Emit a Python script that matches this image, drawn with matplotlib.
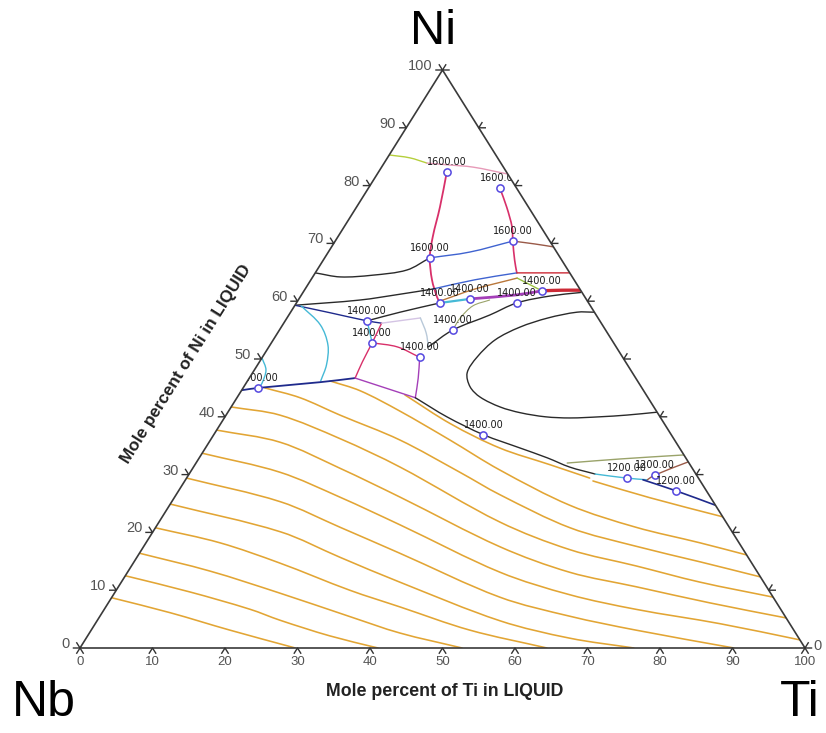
import numpy as np
import matplotlib
matplotlib.use("Agg")
import matplotlib.pyplot as plt
from matplotlib.path import Path
from matplotlib.patches import PathPatch, Polygon
from matplotlib.transforms import offset_copy

plt.rcParams['font.family'] = ['Liberation Sans', 'DejaVu Sans']

# ---------------------------------------------------------------------------
# Liquidus isotherms (mole percent Ti, mole percent Ni)
# ---------------------------------------------------------------------------
iso_ti = [
    [0, 9.4, 19.1, 29.7],
    [0, 10.3, 20.1, 25.2, 33.4, 41.1],
    [0, 11.3, 22.8, 34.6, 42.8, 52.7],
    [0, 10.2, 20.2, 32.2, 40.6, 52.2, 64.4],
    [0, 17.6, 28.0, 38.4, 55.6, 66.7, 76.4],
    [0, 15.0, 25.4, 35.9, 53.5, 64.8, 75.1, 90.2],
    [0, 12.4, 22.8, 33.5, 51.4, 63.0, 73.3, 86.2, 98.6],
    [0, 9.8, 20.3, 31.1, 49.2, 61.0, 71.4, 83.0, 94.8],
    [0, 7.4, 17.8, 28.5, 47.0, 59.1, 69.6, 79.8, 91.2],
    [3.0, 8.7, 15.7, 26.1, 37.2, 44.7, 57.2, 67.9, 78.1, 87.7],
    [11.4, 16.4, 23.6, 33.0, 42.5, 55.2, 66.2, 76.4, 83.9],
    [22.9, 31.7, 40.6, 49.0, 55.6],
    [56.3, 65.6, 77.3],
]
iso_ni = [
    [8.7, 6.1, 3.1, 0],
    [12.5, 9.7, 6.7, 4.8, 2.1, 0],
    [16.4, 13.3, 9.5, 5.4, 2.6, 0],
    [20.8, 18.2, 14.7, 10.0, 7.1, 3.1, 0],
    [24.9, 20.1, 15.7, 11.4, 4.7, 1.7, 0],
    [29.4, 25.3, 20.9, 16.4, 8.8, 5.5, 3.1, 0],
    [33.7, 30.4, 26.1, 21.3, 13.1, 9.2, 6.7, 4.2, 1.4],
    [37.7, 35.6, 31.1, 26.1, 17.5, 13.1, 10.6, 7.8, 5.2],
    [41.7, 40.3, 36.2, 31.3, 21.8, 17.0, 14.2, 11.4, 8.8],
    [45.0, 43.3, 40.3, 36.0, 30.4, 26.5, 20.8, 17.6, 14.9, 12.3],
    [46.2, 44.5, 41.0, 36.0, 30.8, 24.7, 20.9, 18.2, 16.1],
    [43.8, 38.8, 34.6, 31.7, 29.4],
    [28.9, 26.0, 22.7],
]

# ---------------------------------------------------------------------------
# Phase boundaries / monovariant lines (Ti, Ni)
# ---------------------------------------------------------------------------
ygreen_ti, ygreen_ni = [0, 3.1, 5.9], [85.3, 84.8, 83.9]
pink_ti, pink_ni = [5.9, 8.8, 12.6, 18.0], [83.9, 83.6, 83.2, 82.0]
crimson_a_ti = [9.4, 11.5, 13.1, 14.5, 16.7, 18.9, 19.8]
crimson_a_ni = [82.4, 76.3, 71.1, 67.5, 63.7, 60.7, 59.7]
crimson_b_ti = [18.1, 20.7, 23.2, 24.5, 26.4, 27.8]
crimson_b_ni = [79.6, 76.3, 72.8, 70.4, 67.1, 64.9]
black_hi_ti, black_hi_ni = [0, 3.8, 8.1, 12.4, 14.5], [64.9, 64.2, 64.5, 65.4, 67.5]
blue_hi_ti, blue_hi_ni = [14.5, 19.5, 24.5], [67.5, 68.5, 70.4]
brown_hi_ti, brown_hi_ni = [24.5, 27.8, 30.6], [70.4, 69.9, 69.4]
black_mid_ti, black_mid_ni = [0, 8.5, 13.5, 17.6], [59.3, 60.2, 61.2, 62.1]
blue_mid_ti, blue_mid_ni = [17.6, 22.6, 27.8], [62.1, 63.7, 64.9]
brown_mid_ti, brown_mid_ni = [27.8, 31.7, 35.1], [64.9, 64.9, 64.9]
ochre_ti, ochre_ni = [19.6, 23.4, 28.3], [60.0, 62.1, 64.0]
lgreen_ti, lgreen_ni = [28.3, 32.8], [64.0, 61.8]
red_ti, red_ni = [32.8, 35.5, 38.1], [61.8, 61.9, 61.9]
purple_top_ti, purple_top_ni = [23.6, 29.7, 32.8], [60.4, 61.1, 61.8]
cyan_top_ti, cyan_top_ni = [19.8, 23.6], [59.7, 60.4]
black_1400_ti, black_1400_ni = [11.3, 15.1, 19.8], [56.6, 58.1, 59.7]
navy_a_ti, navy_a_ni = [0, 5.5, 11.3, 13.5], [59.3, 58.0, 56.6, 56.2]
cyan_arc_ti, cyan_arc_ni = [0.9, 5.2, 8.0, 9.5, 10.1], [59.2, 55.9, 52.4, 49.0, 46.2]
navy_b_ti, navy_b_ni = [0, 2.1, 10.2, 14.6], [44.6, 45.0, 46.0, 46.7]
cyan_small_ti, cyan_small_ni = [0, 1.6, 2.2, 2.1], [50.2, 48.1, 45.8, 45.0]
cyan_mid_ti, cyan_mid_ni = [11.3, 13.9], [56.6, 52.8]
crimson_c_ti, crimson_c_ni = [13.5, 13.9, 14.2, 14.6], [56.2, 52.8, 49.5, 46.7]
crimson_d_ti, crimson_d_ni = [13.9, 17.7, 21.7], [52.8, 52.1, 50.3]
purple_a_ti, purple_a_ni = [14.6, 19.6, 24.6], [46.7, 45.0, 43.3]
purple_b_ti, purple_b_ni = [21.7, 23.3, 24.6], [50.3, 46.7, 43.3]
lavender_ti, lavender_ni = [13.5, 18.4], [56.2, 57.1]
greyblue_ti, greyblue_ni = [18.4, 20.5, 22.0], [57.1, 54.5, 52.1]
black_c_ti = [22.0, 23.9, 27.7, 30.4, 34.4, 38.3]
black_c_ni = [52.1, 55.0, 57.6, 59.7, 60.9, 61.5]
olive_faint_ti, olive_faint_ni = [23.9, 23.9, 24.6, 26.4], [55.0, 57.1, 59.2, 60.2]
loop_ti = [41.9, 39.5, 36.0, 32.9, 30.6, 29.6, 29.6, 31.2, 33.5, 37.1, 40.4,
           44.2, 47.7, 51.7, 55.3, 59.2]
loop_ni = [58.1, 58.1, 57.1, 55.5, 53.3, 50.3, 47.6, 45.2, 43.4, 41.7, 40.7,
           40.0, 39.8, 40.0, 40.3, 40.8]
black_low_ti = [24.6, 30.6, 37.2, 43.4, 48.0, 51.9, 56.0]
black_low_ni = [43.3, 40.0, 36.9, 34.6, 32.9, 31.3, 30.1]
cyan_low_ti, cyan_low_ni = [56.0, 60.7, 63.7], [30.1, 29.4, 29.1]
brown_low_ti, brown_low_ni = [63.7, 64.3, 67.8], [29.1, 29.9, 32.2]
navy_low_ti, navy_low_ni = [63.1, 68.6, 75.3], [29.1, 27.2, 24.7]
olive_low_ti, olive_low_ni = [51.2, 58.1, 66.6], [32.0, 32.7, 33.4]

# Labelled calculation points (Ti, Ni, temperature in K)
pt_ti = [9.4, 18.1, 14.5, 24.5, 19.8, 23.6, 32.8, 30.4, 11.3, 13.9, 21.7,
         23.9, 2.1, 37.2, 60.7, 64.3, 68.6]
pt_ni = [82.4, 79.6, 67.5, 70.4, 59.7, 60.4, 61.8, 59.7, 56.6, 52.8, 50.3,
         55.0, 45.0, 36.9, 29.4, 29.9, 27.2]
pt_temp = [1600, 1600, 1600, 1600, 1400, 1400, 1400, 1400, 1400, 1400, 1400,
           1400, 1400, 1400, 1200, 1200, 1200]

tick_values = list(range(0, 101, 10))

# ---------------------------------------------------------------------------
ORANGE = '#e2a534'
BLACK = '#2a2a2a'
NAVY = '#1f2a8c'
BLUE = '#3f63d0'
CYAN = '#45b9d6'
CRIMSON = '#d8306a'
PURPLE = '#a43fb8'
PINK = '#e79ab8'
YGREEN = '#b5cf3c'
BROWN = '#9a5a48'
OLIVE = '#9aa36a'
GREYBLUE = '#b9c9d9'
LAVENDER = '#d4c4e4'
RED = '#cc2a36'
LGREEN = '#98c040'
OCHRE = '#b9773a'

# plotting-area scale (pixels per percent) used for chord lengths
SX, SY = 7.25, 5.78


def to_xy(ti, ni):
    ti = np.asarray(ti, float)
    ni = np.asarray(ni, float)
    return ti + ni / 2.0, ni


def smooth_path(ti, ni):
    """Cubic Bezier path through the points (chord-length Hermite tangents)."""
    x, y = to_xy(ti, ni)
    P = np.column_stack([x, y])
    n = len(P)
    if n < 3:
        return Path(P)
    Q = P * np.array([SX, SY])
    d = np.hypot(*np.diff(Q, axis=0).T)
    d[d == 0] = 1e-6
    m = np.zeros_like(P)
    m[0] = (P[1] - P[0]) / d[0]
    m[-1] = (P[-1] - P[-2]) / d[-1]
    for i in range(1, n - 1):
        m[i] = (P[i + 1] - P[i - 1]) / (d[i - 1] + d[i])
    verts = [P[0]]
    codes = [Path.MOVETO]
    for i in range(n - 1):
        verts += [P[i] + m[i] * d[i] / 3.0, P[i + 1] - m[i + 1] * d[i] / 3.0,
                  P[i + 1]]
        codes += [Path.CURVE4] * 3
    return Path(verts, codes)


fig = plt.figure(figsize=(8.26, 7.33), dpi=100)
ax = fig.add_axes([80 / 826, (733 - 648) / 733, 725 / 826, 578 / 733])
ax.set_xlim(0, 100)
ax.set_ylim(0, 100)
ax.axis('off')

tri_clip = Polygon([(0, 0), (100, 0), (50, 100)], closed=True,
                   transform=ax.transData, facecolor='none', edgecolor='none')


def curve(ti, ni, color, lw=1.0, z=3):
    patch = PathPatch(smooth_path(ti, ni), facecolor='none', edgecolor=color,
                      lw=lw, zorder=z, capstyle='round', joinstyle='round')
    ax.add_patch(patch)
    patch.set_clip_path(tri_clip)


for ti, ni in zip(iso_ti, iso_ni):
    curve(ti, ni, ORANGE, lw=1.15, z=2)

curve(ygreen_ti, ygreen_ni, YGREEN)
curve(pink_ti, pink_ni, PINK)
curve(crimson_a_ti, crimson_a_ni, CRIMSON, lw=1.3)
curve(crimson_b_ti, crimson_b_ni, CRIMSON, lw=1.2)
curve(black_hi_ti, black_hi_ni, BLACK)
curve(blue_hi_ti, blue_hi_ni, BLUE)
curve(brown_hi_ti, brown_hi_ni, BROWN)
curve(black_mid_ti, black_mid_ni, BLACK)
curve(blue_mid_ti, blue_mid_ni, BLUE)
curve(brown_mid_ti, brown_mid_ni, RED, lw=1.0)
curve(ochre_ti, ochre_ni, OCHRE)
curve(lgreen_ti, lgreen_ni, LGREEN)
curve(red_ti, red_ni, RED, lw=2.4)
curve(purple_top_ti, purple_top_ni, PURPLE, lw=2.0)
curve(cyan_top_ti, cyan_top_ni, CYAN, lw=1.6)
curve(black_1400_ti, black_1400_ni, BLACK)
curve(navy_a_ti, navy_a_ni, NAVY)
curve(cyan_arc_ti, cyan_arc_ni, CYAN)
curve(navy_b_ti, navy_b_ni, NAVY, lw=1.3)
curve(cyan_small_ti, cyan_small_ni, CYAN)
curve(cyan_mid_ti, cyan_mid_ni, CYAN)
curve(crimson_c_ti, crimson_c_ni, CRIMSON)
curve(crimson_d_ti, crimson_d_ni, CRIMSON)
curve(purple_a_ti, purple_a_ni, PURPLE)
curve(purple_b_ti, purple_b_ni, PURPLE)
curve(lavender_ti, lavender_ni, LAVENDER)
curve(greyblue_ti, greyblue_ni, GREYBLUE)
curve(black_c_ti, black_c_ni, BLACK)
curve(olive_faint_ti, olive_faint_ni, OLIVE, lw=0.8)
curve(loop_ti, loop_ni, BLACK)
curve(black_low_ti, black_low_ni, BLACK)
curve(cyan_low_ti, cyan_low_ni, CYAN)
curve(brown_low_ti, brown_low_ni, BROWN)
curve(navy_low_ti, navy_low_ni, NAVY, lw=1.2)
curve(olive_low_ti, olive_low_ni, OLIVE)

# calculation points with their temperature labels
px, py = to_xy(pt_ti, pt_ni)
ax.plot(px, py, 'o', ms=5.2, mfc='white', mec='#5548e0', mew=1.1,
        zorder=6, clip_on=False)
lab_tr = offset_copy(ax.transData, fig=fig, x=0, y=5, units='dots')
for x, y, t in zip(px, py, pt_temp):
    ax.text(x, y, f"{t:.2f}", transform=lab_tr, ha='center', va='bottom',
            fontsize=7, family=['DejaVu Sans'], color='#1a1a1a', zorder=7)

# white surround that trims anything poking out of the triangle
outer = [(-40, -40), (140, -40), (140, 140), (-40, 140), (-40, -40)]
inner = [(0, 0), (50, 100), (100, 0), (0, 0)]
mask_path = Path(outer + inner,
                 [Path.MOVETO] + [Path.LINETO] * 3 + [Path.CLOSEPOLY]
                 + [Path.MOVETO] + [Path.LINETO] * 2 + [Path.CLOSEPOLY])
ax.add_patch(PathPatch(mask_path, facecolor='white', edgecolor='none',
                       zorder=7.5))

# triangle frame
frame = Polygon([(0, 0), (100, 0), (50, 100)], closed=True, facecolor='none',
                edgecolor='#3a3a3a', lw=1.2, zorder=8, clip_on=False)
ax.add_patch(frame)

# tick marks along the three edges
t = 1.0
tick_kw = dict(color='#333333', lw=1.0, zorder=8, clip_on=False,
               solid_capstyle='butt')
for k in tick_values:
    ax.plot([k - 0.5 * t, k, k + 0.5 * t], [-t, 0, -t], **tick_kw)
    xl = k / 2.0
    ax.plot([xl - t, xl, xl - 0.5 * t], [k, k, k + t], **tick_kw)
    xr = 100 - k / 2.0
    ax.plot([xr + t, xr, xr + 0.5 * t], [k, k, k + t], **tick_kw)

# tick labels
left_tr = offset_copy(ax.transData, fig=fig, x=-10, y=4, units='dots')
bot_tr = offset_copy(ax.transData, fig=fig, x=0, y=-8, units='dots')
right_tr = offset_copy(ax.transData, fig=fig, x=8, y=2, units='dots')
for k in tick_values:
    ax.text(k / 2.0, k, str(k), transform=left_tr, ha='right', va='center',
            fontsize=10.5, color='#555555', zorder=9)
    ax.text(k, 0, str(k), transform=bot_tr, ha='center', va='top',
            fontsize=9.5, color='#555555', zorder=9)
ax.text(100, 0, '0', transform=right_tr, ha='left', va='center',
        fontsize=10.5, color='#555555', zorder=9)

# axis titles
fig.text(445 / 826, 1 - 692 / 733, 'Mole percent of Ti in LIQUID',
         ha='center', va='center', fontsize=12.8, fontweight='bold',
         color='#222222')
fig.text(186 / 826, 1 - 364 / 733, 'Mole percent of Ni in LIQUID',
         ha='center', va='center', fontsize=12.3, fontweight='bold',
         color='#222222', rotation=57.9, rotation_mode='anchor')

# component names at the corners
fig.text(433 / 826, 1 - 32 / 733, 'Ni', ha='center', va='center',
         fontsize=35, color='black')
fig.text(44 / 826, 1 - 703 / 733, 'Nb', ha='center', va='center',
         fontsize=36, color='black')
fig.text(800 / 826, 1 - 703 / 733, 'Ti', ha='center', va='center',
         fontsize=36, color='black')

fig.savefig('out.png', dpi=100, facecolor='white')
